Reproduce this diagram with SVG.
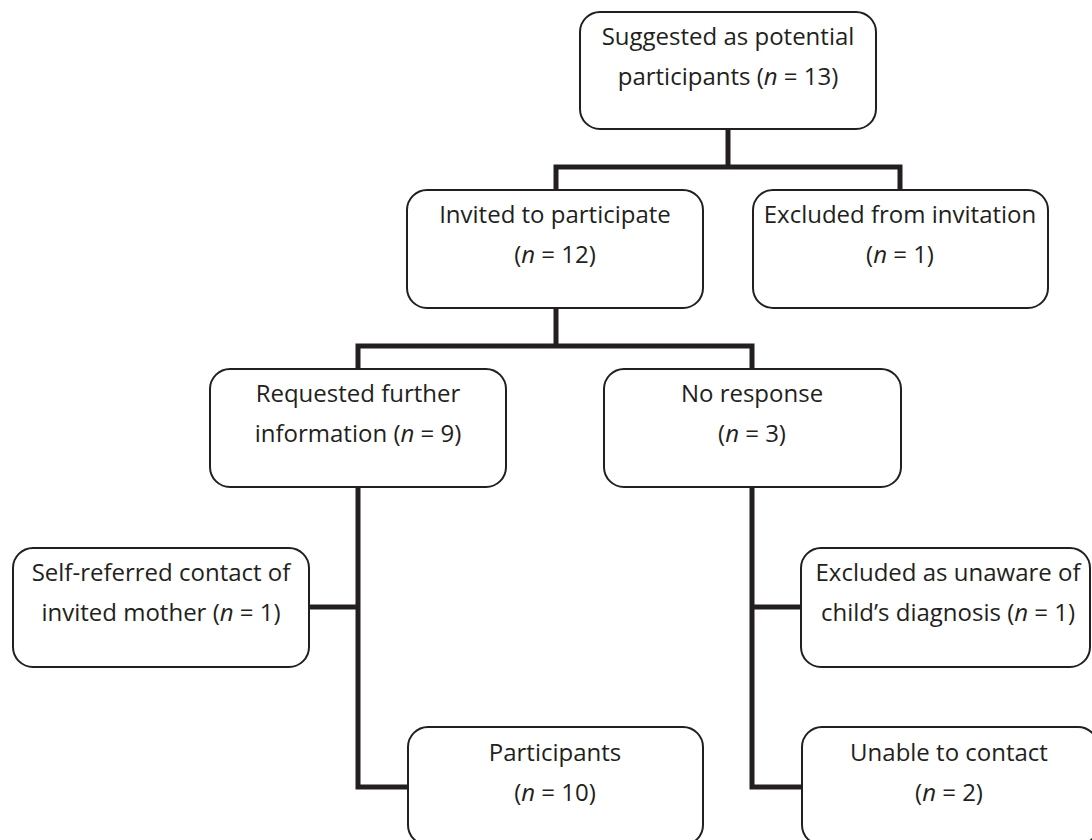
<svg xmlns="http://www.w3.org/2000/svg" width="1092" height="840" viewBox="0 0 1092 840">
<style>
.box{fill:#fff;stroke:#231f20;stroke-width:2}
.t{font-family:"Open Sans","Liberation Sans",sans-serif;font-size:24px;fill:#231f20;text-anchor:middle}
.i{font-style:italic}
.c{fill:none;stroke:#231f20;stroke-width:5;stroke-linecap:butt;stroke-linejoin:miter}
</style>
<rect width="1092" height="840" fill="#fff"/>
<g id="connectors">
<path class="c" d="M728,129 V167"/>
<path class="c" d="M556,190 V167 H900 V190"/>
<path class="c" d="M556,308 V346"/>
<path class="c" d="M358,369 V346 H752 V369"/>
<path class="c" d="M358,488 V787 H408"/>
<path class="c" d="M309,607 H358"/>
<path class="c" d="M752,487 V787 H802"/>
<path class="c" d="M752,607 H801"/>
</g>
<g id="n1">
<rect class="box" x="580" y="12" width="296" height="117" rx="20"/>
<text class="t" x="728" y="45">Suggested as potential</text>
<text class="t" x="728" y="85">participants (<tspan class="i">n</tspan> = 13)</text>
</g>
<g id="n2">
<rect class="box" x="407" y="190" width="296" height="118" rx="20"/>
<text class="t" x="555" y="223">Invited to participate</text>
<text class="t" x="555" y="263">(<tspan class="i">n</tspan> = 12)</text>
</g>
<g id="n3">
<rect class="box" x="753" y="190" width="295" height="118" rx="20"/>
<text class="t" x="900" y="223">Excluded from invitation</text>
<text class="t" x="900" y="263">(<tspan class="i">n</tspan> = 1)</text>
</g>
<g id="n4">
<rect class="box" x="210" y="369" width="296" height="118" rx="20"/>
<text class="t" x="358" y="402">Requested further</text>
<text class="t" x="358" y="442">information (<tspan class="i">n</tspan> = 9)</text>
</g>
<g id="n5">
<rect class="box" x="604" y="369" width="297" height="118" rx="20"/>
<text class="t" x="752" y="402">No response</text>
<text class="t" x="752" y="442">(<tspan class="i">n</tspan> = 3)</text>
</g>
<g id="n6">
<rect class="box" x="13" y="548" width="296" height="119" rx="20"/>
<text class="t" x="161" y="581">Self-referred contact of</text>
<text class="t" x="161" y="621">invited mother (<tspan class="i">n</tspan> = 1)</text>
</g>
<g id="n7">
<rect class="box" x="801" y="548" width="289" height="119" rx="20"/>
<text class="t" x="948" y="581">Excluded as unaware of</text>
<text class="t" x="948" y="621">child’s diagnosis (<tspan class="i">n</tspan> = 1)</text>
</g>
<g id="n8">
<rect class="box" x="408" y="727" width="295" height="118" rx="20"/>
<text class="t" x="555" y="761">Participants</text>
<text class="t" x="555" y="801">(<tspan class="i">n</tspan> = 10)</text>
</g>
<g id="n9">
<rect class="box" x="802" y="727" width="296" height="118" rx="20"/>
<text class="t" x="949" y="761">Unable to contact</text>
<text class="t" x="949" y="801">(<tspan class="i">n</tspan> = 2)</text>
</g>
</svg>
